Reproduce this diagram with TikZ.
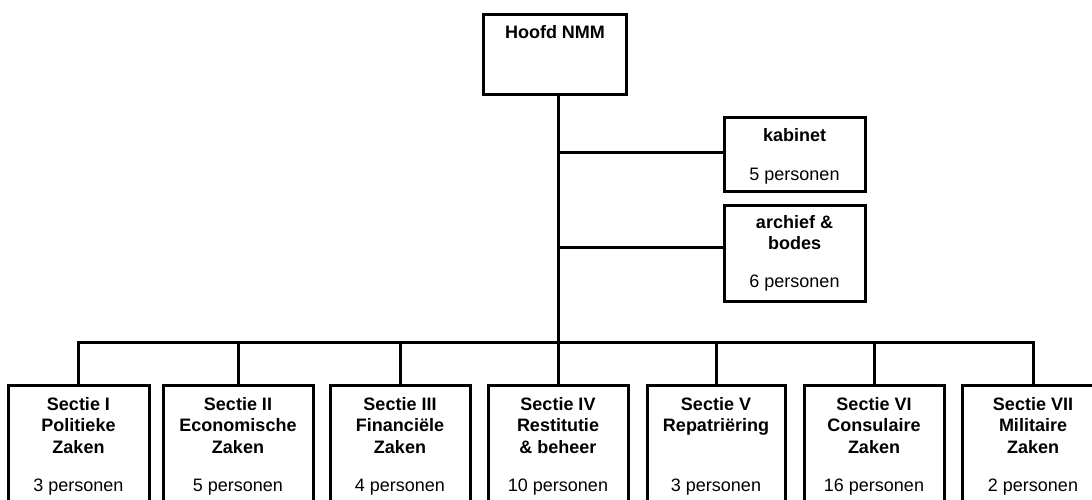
\documentclass[tikz,border=0pt]{standalone}
\usepackage{fontspec}
\setmainfont{Liberation Sans}
\begin{document}
\begin{tikzpicture}[x=1pt,y=-1pt,
  box/.style={draw=black, line width=3pt, rectangle, inner sep=0pt, anchor=north},
  txt/.style={font=\fontsize{18}{21.7}\selectfont, align=center, inner sep=0pt, anchor=north, text=black},
  conn/.style={draw=black, line width=3pt}]
\useasboundingbox (0,0) rectangle (1092,499);
\clip (0,0) rectangle (1092,499);
% top
\node[box, minimum width=143, minimum height=80] (hoofd) at (555,13) {};
\node[txt] (hoofdt) at ([yshift=-12.5pt]hoofd.north) {\textbf{Hoofd NMM}};
% side boxes
\node[box, minimum width=141, minimum height=74] (kab) at (794.5,116) {};
\node[txt] (kabt) at ([yshift=-12.5pt]kab.north) {\textbf{kabinet}\\[16.6pt]5 personen};
\node[box, minimum width=141, minimum height=96] (arch) at (794.5,204) {};
\node[txt] (archt) at ([yshift=-11pt]arch.north) {\textbf{archief \&}\\\textbf{bodes}\\[16.3pt]6 personen};
% bottom boxes
\node[box, minimum width=141, minimum height=140] (s1) at (78.5,384) {};
\node[box, minimum width=150, minimum height=140] (s2) at (238,384) {};
\node[box, minimum width=140, minimum height=140] (s3) at (400,384) {};
\node[box, minimum width=140, minimum height=140] (s4) at (558,384) {};
\node[box, minimum width=138, minimum height=140] (s5) at (716,384) {};
\node[box, minimum width=140, minimum height=140] (s6) at (874,384) {};
\node[box, minimum width=141, minimum height=140] (s7) at (1033,384) {};
\node[txt] (s1t) at ([yshift=-12.8pt]s1.north) {\textbf{Sectie I}\\\textbf{Politieke}\\\textbf{Zaken}\\[16.3pt]3 personen};
\node[txt] (s2t) at ([yshift=-12.8pt]s2.north) {\textbf{Sectie II}\\\textbf{Economische}\\\textbf{Zaken}\\[16.3pt]5 personen};
\node[txt] (s3t) at ([yshift=-12.8pt]s3.north) {\textbf{Sectie III}\\\textbf{Financiële}\\\textbf{Zaken}\\[16.3pt]4 personen};
\node[txt] (s4t) at ([yshift=-12.8pt]s4.north) {\textbf{Sectie IV}\\\textbf{Restitutie}\\\textbf{\& beheer}\\[16.3pt]10 personen};
\node[txt] (s5t) at ([yshift=-12.8pt]s5.north) {\textbf{Sectie V}\\\textbf{Repatriëring}\\\strut\\[16.3pt]3 personen};
\node[txt] (s6t) at ([yshift=-12.8pt]s6.north) {\textbf{Sectie VI}\\\textbf{Consulaire}\\\textbf{Zaken}\\[16.3pt]16 personen};
\node[txt] (s7t) at ([yshift=-12.8pt]s7.north) {\textbf{Sectie VII}\\\textbf{Militaire}\\\textbf{Zaken}\\[16.3pt]2 personen};
% connectors
\coordinate (trunk) at (558,342);
\draw[conn] (hoofd.south -| trunk) -- (trunk);
\draw[conn] (kab.west |- 0,152) -- (trunk |- 0,152);
\draw[conn] (arch.west |- 0,247) -- (trunk |- 0,247);
\draw[conn, line join=miter] (s1.north) -- (s1.north |- trunk) -- (s7.north |- trunk) -- (s7.north);
\foreach \s in {s2,s3,s4,s5,s6} {\draw[conn] (\s.north) -- (\s.north |- trunk);}
\end{tikzpicture}
\end{document}
